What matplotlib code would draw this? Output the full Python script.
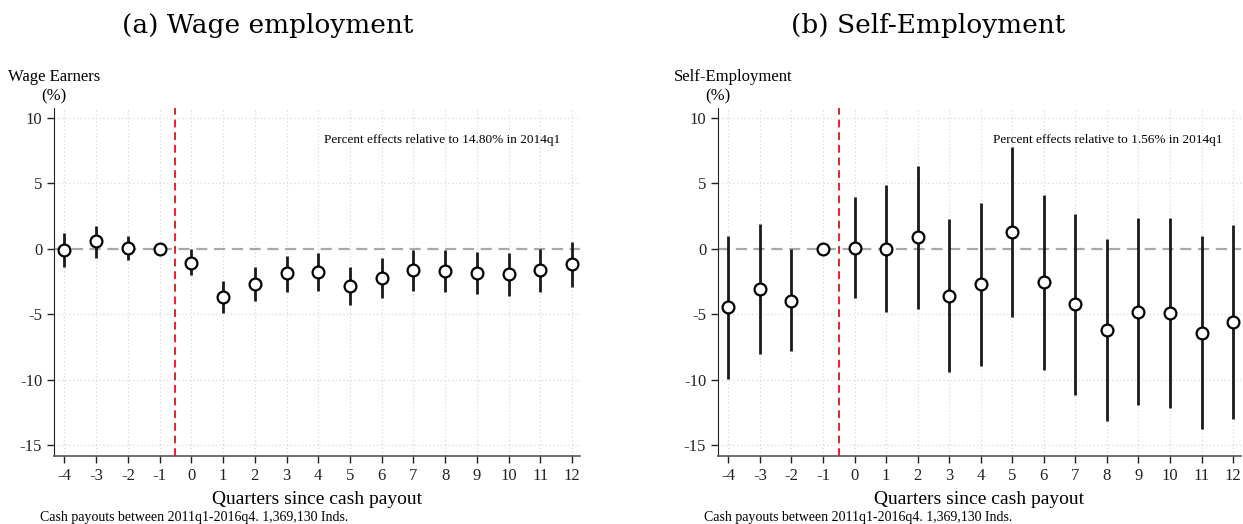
import numpy as np
import matplotlib
matplotlib.use("Agg")
import matplotlib.pyplot as plt

plt.rcParams['font.family'] = ['Liberation Serif', 'DejaVu Serif']
plt.rcParams['axes.unicode_minus'] = False

quarters = list(range(-4, 13))

# wage earners: point estimate and 95% CI bounds (percent)
wage_est = [-0.10, 0.59, 0.03, 0.0, -1.07, -3.70, -2.70, -1.88, -1.75, -2.82, -2.21, -1.63, -1.68, -1.88, -1.91, -1.63, -1.19]
wage_hi = [1.20, 1.76, 0.99, 0.0, -0.03, -2.47, -1.42, -0.56, -0.30, -1.37, -0.71, -0.10, -0.10, -0.25, -0.30, 0.00, 0.49]
wage_lo = [-1.40, -0.69, -0.86, 0.0, -2.03, -4.88, -3.98, -3.28, -3.20, -4.30, -3.79, -3.23, -3.33, -3.46, -3.58, -3.33, -2.92]

# self-employment
self_est = [-4.47, -3.08, -3.99, 0.0, 0.08, 0.00, 0.87, -3.59, -2.69, 1.27, -2.57, -4.25, -6.20, -4.81, -4.93, -6.41, -5.62]
self_hi = [0.97, 1.86, -0.05, 0.0, 3.92, 4.89, 6.31, 2.24, 3.51, 7.74, 4.10, 2.67, 0.77, 2.37, 2.37, 0.97, 1.78]
self_lo = [-9.95, -8.04, -7.81, 0.0, -3.74, -4.86, -4.58, -9.39, -8.93, -5.19, -9.26, -11.17, -13.15, -11.93, -12.19, -13.76, -13.03]

ref_q = -1
yticks = [10, 5, 0, -5, -10, -15]

panels = [
    dict(title="(a) Wage employment", ylab="Wage Earners", est=wage_est, lo=wage_lo, hi=wage_hi,
         note="Percent effects relative to 14.80% in 2014q1", pos=[0.0434, 0.1298, 0.4232, 0.6641],
         title_x=0.2156, note_x=0.3555, ylab_dx=0.0),
    dict(title="(b) Self-Employment", ylab="Self-Employment", est=self_est, lo=self_lo, hi=self_hi,
         note="Percent effects relative to 1.56% in 2014q1", pos=[0.5776, 0.1298, 0.4208, 0.6641],
         title_x=0.7466, note_x=0.891, ylab_dx=0.012),
]

fig = plt.figure(figsize=(12.43, 5.24), dpi=100)

for p in panels:
    ax = fig.add_axes(p['pos'])
    q = np.array(quarters)
    est = np.array(p['est'])
    lo = np.array(p['lo'])
    hi = np.array(p['hi'])

    for y in yticks:
        if y != 0:
            ax.axhline(y, color='#d9d9d9', lw=0.9, ls=(0, (1, 2)), zorder=0)
    for x in quarters:
        ax.axvline(x, color='#d9d9d9', lw=0.9, ls=(0, (1, 2)), zorder=0)
    ax.axhline(0, color='#a8a8a8', lw=1.6, ls=(0, (5, 3)), zorder=1)
    ax.axvline(-0.5, color='#ee2020', lw=1.4, ls=(0, (4, 2.5)), zorder=1)

    has_ci = q != ref_q
    ax.vlines(q[has_ci], lo[has_ci], hi[has_ci], color='#1a1a1a', lw=2.0, zorder=2)
    ax.plot(q, est, 'o', ms=8.5, mfc='white', mec='black', mew=1.6, zorder=3)

    ax.set_xlim(-4.33, 12.25)
    ax.set_ylim(-15.82, 10.74)
    ax.set_xticks(quarters)
    ax.set_yticks(yticks)
    ax.tick_params(labelsize=12, length=5, width=1, direction='out', colors='#222222')
    ax.spines['top'].set_visible(False)
    ax.spines['right'].set_visible(False)
    ax.spines['left'].set_color('#222222')
    ax.spines['bottom'].set_color('#555555')
    ax.spines['bottom'].set_linewidth(1.2)

    ax.set_xlabel("Quarters since cash payout", fontsize=14, labelpad=5)

    x0 = p['pos'][0]
    fig.text(p['title_x'], 0.952, p['title'], fontsize=19, ha='center', va='center',
             family=['DejaVu Serif'])
    fig.text(x0 + p['ylab_dx'], 0.853, p['ylab'], fontsize=12, ha='center', va='center')
    fig.text(x0, 0.817, "(%)", fontsize=12, ha='center', va='center')
    fig.text(p['note_x'], 0.733, p['note'], fontsize=9.5, ha='center', va='center')
    fig.text(x0 - 0.011, 0.013, "Cash payouts between 2011q1-2016q4. 1,369,130 Inds.",
             fontsize=10, ha='left', va='center')

fig.savefig("out.png", dpi=100)
